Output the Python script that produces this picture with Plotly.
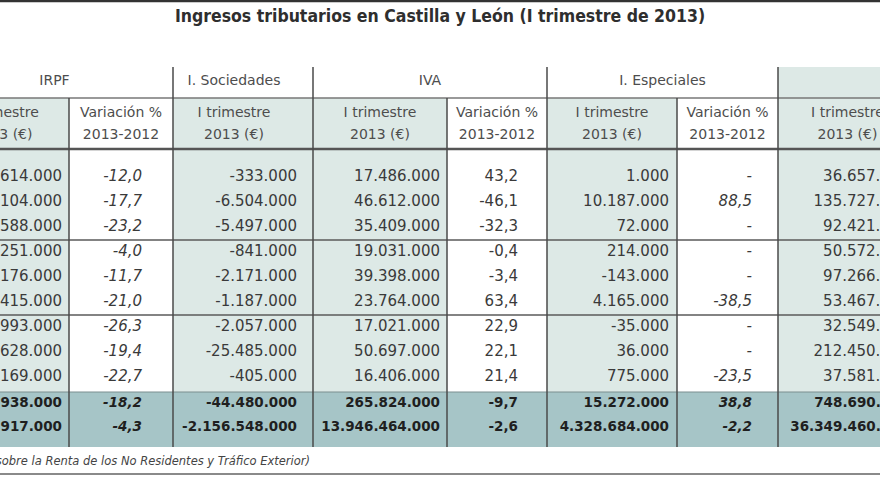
import plotly.graph_objects as go

# ---------------- data ----------------
title = "Ingresos tributarios en Castilla y León (I trimestre de 2013)"
group_names = ["IRPF", "I. Sociedades", "IVA", "I. Especiales", ""]
sub_trim = ["I trimestre", "2013 (€)"]
sub_var = ["Variación %", "2013-2012"]

irpf_trim = ["614.000", "104.000", "588.000", "251.000", "176.000", "415.000",
             "993.000", "628.000", "169.000", "938.000", "917.000"]
irpf_var = ["-12,0", "-17,7", "-23,2", "-4,0", "-11,7", "-21,0",
            "-26,3", "-19,4", "-22,7", "-18,2", "-4,3"]
soc_trim = ["-333.000", "-6.504.000", "-5.497.000", "-841.000", "-2.171.000", "-1.187.000",
            "-2.057.000", "-25.485.000", "-405.000", "-44.480.000", "-2.156.548.000"]
iva_trim = ["17.486.000", "46.612.000", "35.409.000", "19.031.000", "39.398.000", "23.764.000",
            "17.021.000", "50.697.000", "16.406.000", "265.824.000", "13.946.464.000"]
iva_var = ["43,2", "-46,1", "-32,3", "-0,4", "-3,4", "63,4",
           "22,9", "22,1", "21,4", "-9,7", "-2,6"]
esp_trim = ["1.000", "10.187.000", "72.000", "214.000", "-143.000", "4.165.000",
            "-35.000", "36.000", "775.000", "15.272.000", "4.328.684.000"]
esp_var = ["-", "88,5", "-", "-", "-", "-38,5",
           "-", "-", "-23,5", "38,8", "-2,2"]
total_trim = ["36.657.000", "135.727.000", "92.421.000", "50.572.000", "97.266.000", "53.467.000",
              "32.549.000", "212.450.000", "37.581.000", "748.690.000", "36.349.460.000"]
footnote = "(Impuesto sobre la Renta de los No Residentes y Tráfico Exterior)"

# ---------------- table geometry (canvas units) ----------------
W, H = 880, 495
LIGHT = "#dde9e6"
DARK = "#a6c5c7"
TXT = "#3a3a3a"
HDR = "#4d4d4d"
FONT = "DejaVu Sans"

cols = [
    dict(vals=irpf_trim, kind="trim", left=-64, right=69, pad=7, shift=0, italic=False),
    dict(vals=irpf_var, kind="var", left=69, right=173, pad=31, shift=0, italic=True),
    dict(vals=soc_trim, kind="trim", left=173, right=313, pad=16, shift=-9, italic=False),
    dict(vals=iva_trim, kind="trim", left=313, right=447, pad=7, shift=0, italic=False),
    dict(vals=iva_var, kind="var", left=447, right=547, pad=29, shift=0, italic=False),
    dict(vals=esp_trim, kind="trim", left=547, right=677, pad=8, shift=0, italic=False),
    dict(vals=esp_var, kind="var", left=677, right=778, pad=26, shift=0, italic=True),
    dict(vals=total_trim, kind="trim", left=778, right=917, pad=8, shift=0, italic=False),
]
group_spans = [(-64, 173), (173, 313), (313, 547), (547, 778), (778, 1056)]
group_shift = [0, -9, 0, 0, 0]

Y_HDR_TOP, Y_HDR_MID, Y_HDR_BOT = 67, 98, 149
Y_TOT_TOP, Y_TOT_BOT = 392, 447
block_tops = [165, 240, 315]
ROW_H = 25
row_y = [t + ROW_H * (i + 0.5) for t in block_tops for i in range(3)]
row_y += [Y_TOT_TOP + 12, Y_TOT_TOP + 36]
n_body = 9

fig = go.Figure()
shapes = []

def rect(x0, x1, y0, y1, color):
    shapes.append(dict(type="rect", xref="x", yref="y", x0=x0, x1=x1, y0=y0, y1=y1,
                       fillcolor=color, line=dict(width=0), layer="below"))

def line(x0, x1, y0, y1, color, width):
    shapes.append(dict(type="line", xref="x", yref="y", x0=x0, x1=x1, y0=y0, y1=y1,
                       line=dict(color=color, width=width), layer="above"))

# backgrounds
rect(778, W + 10, Y_HDR_TOP, Y_HDR_MID, LIGHT)
for c in cols:
    if c["kind"] == "trim":
        rect(c["left"], c["right"], Y_HDR_MID, Y_TOT_TOP, LIGHT)
rect(-10, W + 10, Y_TOT_TOP, Y_TOT_BOT, DARK)

# lines
line(-10, W + 10, 1, 1, "#333333", 2.5)
line(-10, W + 10, Y_HDR_MID, Y_HDR_MID, "#777777", 1.5)
line(-10, W + 10, Y_HDR_BOT, Y_HDR_BOT, "#555555", 2.5)
for t in block_tops[1:]:
    line(-10, W + 10, t, t, "#5a5a5a", 1.5)
line(-10, W + 10, Y_TOT_TOP, Y_TOT_TOP, "#7a8f90", 1)
line(-10, W + 10, 474, 474, "#8a8a8a", 2)
for g0, g1 in group_spans[1:]:
    line(g0, g0, Y_HDR_TOP, Y_TOT_BOT, "#4a4a4a", 1.5)
for c in cols:
    if c["kind"] == "var" and c["left"] not in [g[0] for g in group_spans]:
        line(c["left"], c["left"], Y_HDR_MID, Y_TOT_BOT, "#4a4a4a", 1.5)

# title
fig.add_trace(go.Scatter(x=[W / 2], y=[18], mode="text", text=[title],
                         textposition="middle center",
                         textfont=dict(family="DejaVu Sans Condensed, Liberation Sans",
                                       size=17.5, color="#2e2e2e", weight="bold")))

# group headers
gx = [(a + b) / 2 + s for (a, b), s in zip(group_spans, group_shift)]
fig.add_trace(go.Scatter(x=gx, y=[81] * len(gx), mode="text", text=group_names,
                         textposition="middle center",
                         textfont=dict(family=FONT, size=14, color=HDR)))

# sub headers
hx, hy, ht = [], [], []
for c in cols:
    labels = sub_trim if c["kind"] == "trim" else sub_var
    cx = (c["left"] + c["right"]) / 2 + c["shift"]
    for yy, lab in zip([113, 135], labels):
        hx.append(cx); hy.append(yy); ht.append(lab)
fig.add_trace(go.Scatter(x=hx, y=hy, mode="text", text=ht, textposition="middle center",
                         textfont=dict(family=FONT, size=14, color=HDR)))

# body values
for c in cols:
    ax = c["right"] - c["pad"]
    style = "italic" if c["italic"] else "normal"
    fig.add_trace(go.Scatter(x=[ax] * n_body, y=row_y[:n_body], mode="text",
                             text=c["vals"][:n_body], textposition="middle left",
                             textfont=dict(family=FONT, size=15, color=TXT, style=style)))
    fig.add_trace(go.Scatter(x=[ax] * 2, y=row_y[n_body:], mode="text",
                             text=c["vals"][n_body:], textposition="middle left",
                             textfont=dict(family=FONT, size=13.5, color="#1f1f1f",
                                           weight="bold", style=style)))

# footnote
fig.add_trace(go.Scatter(x=[310], y=[462], mode="text", text=[footnote],
                         textposition="middle left",
                         textfont=dict(family=FONT, size=11.5, color="#444444", style="italic")))

fig.update_layout(
    width=W, height=H, margin=dict(l=0, r=0, t=0, b=0),
    paper_bgcolor="white", plot_bgcolor="white", showlegend=False,
    xaxis=dict(range=[0, W], visible=False, fixedrange=True),
    yaxis=dict(range=[H, 0], visible=False, fixedrange=True),
    shapes=shapes, hovermode=False,
)
fig.write_html("out.html", config={"displayModeBar": False},
               post_script="document.body.style.margin='0px';")
